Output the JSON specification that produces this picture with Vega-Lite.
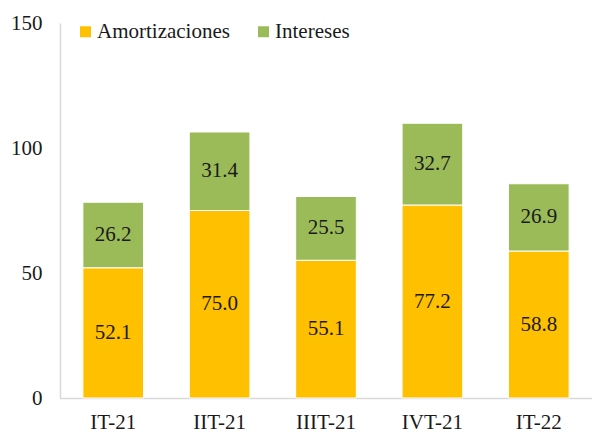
{
  "$schema": "https://vega.github.io/schema/vega-lite/v6.json",
  "autosize": "none",
  "width": 532,
  "height": 375,
  "padding": {"left": 60, "top": 23, "right": 0, "bottom": 36},
  "background": "white",
  "config": {"font": "Liberation Serif", "view": {"stroke": null}},
  "data": {
    "values": [
      {"periodo": "IT-21", "serie": "Amortizaciones", "value": 52.1},
      {"periodo": "IT-21", "serie": "Intereses", "value": 26.2},
      {"periodo": "IIT-21", "serie": "Amortizaciones", "value": 75.0},
      {"periodo": "IIT-21", "serie": "Intereses", "value": 31.4},
      {"periodo": "IIIT-21", "serie": "Amortizaciones", "value": 55.1},
      {"periodo": "IIIT-21", "serie": "Intereses", "value": 25.5},
      {"periodo": "IVT-21", "serie": "Amortizaciones", "value": 77.2},
      {"periodo": "IVT-21", "serie": "Intereses", "value": 32.7},
      {"periodo": "IT-22", "serie": "Amortizaciones", "value": 58.8},
      {"periodo": "IT-22", "serie": "Intereses", "value": 26.9}
    ]
  },
  "transform": [
    {"stack": "value", "groupby": ["periodo"], "sort": [{"field": "serie", "order": "ascending"}], "as": ["v0", "v1"]}
  ],
  "encoding": {
    "x": {
      "field": "periodo",
      "type": "nominal",
      "sort": ["IT-21", "IIT-21", "IIIT-21", "IVT-21", "IT-22"],
      "scale": {"paddingInner": 0.43, "paddingOuter": 0.215},
      "axis": {
        "title": null,
        "labelAngle": 0,
        "ticks": false,
        "domainColor": "#d9d9d9",
        "domainWidth": 1.5,
        "labelFontSize": 21,
        "labelColor": "#1a1a1a",
        "labelPadding": 13
      }
    }
  },
  "layer": [
    {
      "mark": {"type": "bar", "stroke": "white", "strokeWidth": 1},
      "encoding": {
        "y": {
          "field": "v0",
          "type": "quantitative",
          "scale": {"domain": [0, 150], "nice": false},
          "axis": {
            "title": null,
            "values": [0, 50, 100, 150],
            "grid": false,
            "ticks": false,
            "domainColor": "#d9d9d9",
            "domainWidth": 1.5,
            "labelFontSize": 21,
            "labelColor": "#1a1a1a",
            "labelPadding": 18
          }
        },
        "y2": {"field": "v1"},
        "color": {
          "field": "serie",
          "type": "nominal",
          "scale": {"domain": ["Amortizaciones", "Intereses"], "range": ["#FFC000", "#9BBB59"]},
          "legend": {
            "title": null,
            "orient": "none",
            "direction": "horizontal",
            "legendX": 15,
            "legendY": -2,
            "padding": 0,
            "symbolType": "square",
            "symbolSize": 121,
            "symbolStrokeWidth": 0,
            "labelFontSize": 21,
            "labelColor": "#1a1a1a",
            "labelOffset": 1,
            "columnPadding": 23
          }
        }
      }
    },
    {
      "transform": [
        {"fold": ["v0", "v1"], "as": ["k", "pos"]},
        {"aggregate": [{"op": "mean", "field": "pos", "as": "mid"}], "groupby": ["periodo", "serie", "value"]}
      ],
      "mark": {"type": "text", "fontSize": 21, "color": "#1a1a1a"},
      "encoding": {
        "y": {"field": "mid", "type": "quantitative", "scale": {"domain": [0, 150], "nice": false}},
        "text": {"field": "value", "type": "quantitative", "format": ".1f"}
      }
    }
  ]
}
